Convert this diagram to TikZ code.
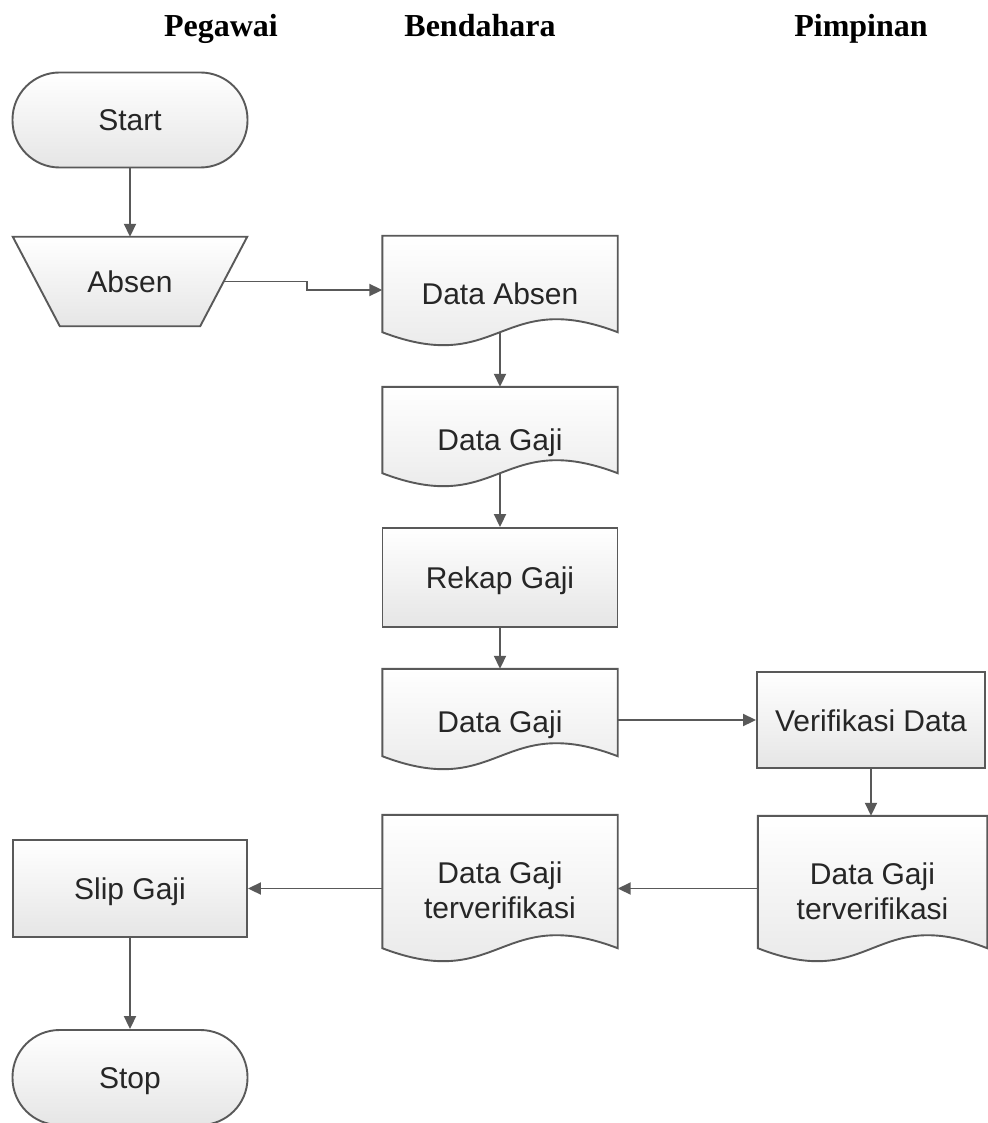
\documentclass[tikz,border=0pt]{standalone}
\usepackage{fontspec}
\setmainfont{Liberation Serif}
\newfontfamily\boxfont{Liberation Sans}
\usetikzlibrary{arrows.meta,positioning,backgrounds}
\definecolor{edge}{HTML}{595959}
\definecolor{ink}{HTML}{262626}

\begin{document}
\begin{tikzpicture}[x=1pt,y=-1pt,
    lane/.style={font=\bfseries\fontsize{32}{36}\selectfont,anchor=base,inner sep=0pt},
    boxtxt/.style={font=\boxfont\fontsize{30}{35}\selectfont,text=ink,inner sep=0pt,
      minimum width=235pt,text height=22pt,text depth=0pt},
    proc/.style={boxtxt,draw=edge,line width=1.9pt,top color=white,bottom color=black!10},
    term/.style={proc,rounded corners=47pt},
    doc/.style={boxtxt,text height=40pt},
    twoline/.style={doc,align=center,text height=74.5pt,text depth=0pt},
    outline/.style={draw=edge,line width=1.9pt,top color=white,bottom color=black!10},
    flow/.style={draw=edge,line width=1.9pt,-{Triangle[length=13pt,width=12pt]}}
  ]
  \useasboundingbox (0,0) rectangle (987,1123);

  % lanes
  \node[lane] (hpeg) at (221,37) {Pegawai};
  \node[lane] (hben) at (480,37) {Bendahara};
  \node[lane] (hpim) at (861,37) {Pimpinan};

  % pegawai
  \node[term,minimum height=95pt] (start) at (130,120) {Start};
  \node[boxtxt,minimum width=234pt,minimum height=89pt] (absen) at (130,281.5) {Absen};
  \node[proc,minimum width=234pt,minimum height=97pt] (slip) at (130,888.5) {Slip Gaji};
  \node[term,minimum height=95pt] (stop) at (130,1077.5) {Stop};

  % bendahara
  \node[doc,minimum height=96pt] (dabsen) at (500,284) {Data Absen};
  \node[doc,minimum height=86pt] (dgaji) at (500,430) {Data Gaji};
  \node[proc,minimum height=99pt] (rekap) at (500,577.5) {Rekap Gaji};
  \node[doc,minimum height=87pt] (dgajii) at (500,712.5) {Data Gaji};
  \node[twoline,minimum height=133pt] (mver) at (500,881.5) {Data Gaji\\terverifikasi};

  % pimpinan
  \node[proc,minimum width=228pt,minimum height=96pt] (verif) at (871,720) {Verifikasi Data};
  \node[twoline,minimum width=229pt,minimum height=132pt] (rver) at (872.5,882)
    {Data Gaji\\terverifikasi};

  % outlines behind the texts
  \begin{scope}[on background layer]
    \path[outline] (absen.north west) -- (absen.north east)
      -- ([xshift=-47pt]absen.south east) -- ([xshift=47pt]absen.south west) -- cycle;
    \foreach \d in {dabsen,dgaji,dgajii,mver,rver}
      \path[outline] (\d.south west) -- (\d.north west) -- (\d.north east) -- (\d.south east)
        .. controls ([yshift=45pt]\d.south) and ([yshift=-45pt]\d.south) .. (\d.south west)
        -- cycle;
  \end{scope}

  % flow
  \draw[flow] (start) -- (absen);
  \draw[flow] ([xshift=-23.5pt]absen.east) -- ++(83.5,0) |- ([yshift=-6pt]dabsen.west);
  \draw[flow] (dabsen) -- (dgaji);
  \draw[flow] (dgaji) -- (rekap);
  \draw[flow] (rekap) -- (dgajii);
  \draw[flow] (dgajii.east |- verif.west) -- (verif.west);
  \draw[flow] (verif.south) -- (verif.south |- rver.north);
  \draw[flow] (rver.west |- slip.east) -- (mver.east |- slip.east);
  \draw[flow] (mver.west |- slip.east) -- (slip.east);
  \draw[flow] (slip) -- (stop);
\end{tikzpicture}
\end{document}
